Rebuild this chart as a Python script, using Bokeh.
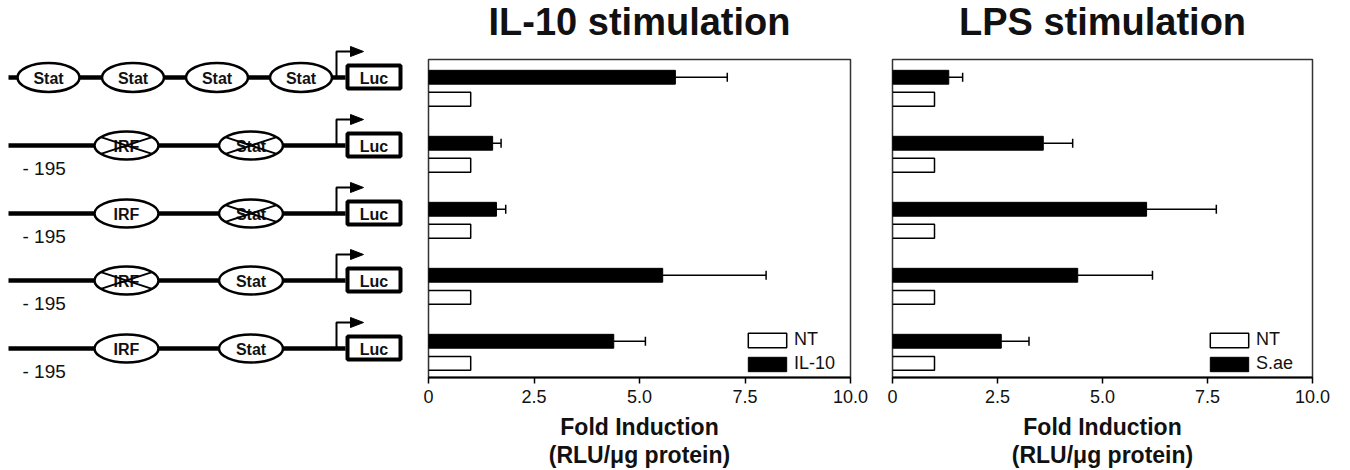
from bokeh.plotting import figure
from bokeh.models import (Range1d, ColumnDataSource, Whisker, TeeHead, Legend,
                          LegendItem, FixedTicker, Title)
from bokeh.layouts import row, column
from bokeh.embed import file_html
from bokeh.resources import INLINE
from bokeh.core.properties import value

FONT = "Liberation Sans"
H = 468
FRAME_TOP, FRAME_BOTTOM = 59, 377

# ---------------- data ----------------
constructs = ["4xStat", "IRF*-Stat*", "IRF-Stat*", "IRF*-Stat", "IRF-Stat"]
group_pos = [5, 4, 3, 2, 1]
nt_fold = [1.0, 1.0, 1.0, 1.0, 1.0]
il10_fold = [5.85, 1.52, 1.61, 5.55, 4.39]
il10_err = [1.23, 0.20, 0.22, 2.45, 0.75]
sae_fold = [1.34, 3.59, 6.05, 4.41, 2.59]
sae_err = [0.33, 0.70, 1.66, 1.78, 0.66]
x_ticks = [0, 2.5, 5, 7.5, 10]
x_tick_labels = ["0", "2.5", "5.0", "7.5", "10.0"]

# promoter schematic: (site label, mutated?) per construct
sites = [
    [("Stat", False), ("Stat", False), ("Stat", False), ("Stat", False)],
    [("IRF", True), ("Stat", True)],
    [("IRF", False), ("Stat", True)],
    [("IRF", True), ("Stat", False)],
    [("IRF", False), ("Stat", False)],
]
start_labels = ["", "- 195", "- 195", "- 195", "- 195"]

# ---------------- schematic figure (pixel-like coordinates) ----------------
ROW_Y = [77, 145, 213, 280, 348]
d = figure(width=418, height=H, x_range=Range1d(0, 418), y_range=Range1d(H, 0),
           output_backend="svg", toolbar_location=None, min_border=0,
           x_axis_location=None, y_axis_location=None, outline_line_color=None)
d.xgrid.visible = False
d.ygrid.visible = False

# promoter lines
d.segment(x0=[8] * 5, x1=[345] * 5, y0=ROW_Y, y1=ROW_Y, line_width=4.5, line_color="black")

ex, ey, ew, eh, etxt, mut_cx, mut_cy, mut_a, mut_b = [], [], [], [], [], [], [], [], []
for i, s in enumerate(sites):
    if len(s) == 4:
        cxs = [48, 132.5, 216.5, 300.5]
        w, h = 62, 29
    else:
        cxs = [126, 250.5]
        w, h = 64, 28
    for (lab, m), cx in zip(s, cxs):
        ex.append(cx); ey.append(ROW_Y[i]); ew.append(w); eh.append(h); etxt.append(lab)
        if m:
            mut_cx.append(cx); mut_cy.append(ROW_Y[i]); mut_a.append(w / 2); mut_b.append(h / 2)

d.ellipse(x=ex, y=ey, width=ew, height=eh, fill_color="white", line_color="black", line_width=2.5)
d.text(x=ex, y=[v + 1 for v in ey], text=etxt, text_align="center", text_baseline="middle",
       text_font=value(FONT), text_font_style="bold", text_font_size="16px", text_color="#111")
# crosses over mutated sites
x0s, y0s, x1s, y1s = [], [], [], []
for cx, cy, a, b in zip(mut_cx, mut_cy, mut_a, mut_b):
    x0s += [cx - 0.8 * a, cx - 0.8 * a]
    x1s += [cx + 0.8 * a, cx + 0.8 * a]
    y0s += [cy - 0.6 * b, cy + 0.6 * b]
    y1s += [cy + 0.6 * b, cy - 0.6 * b]
d.segment(x0=x0s, y0=y0s, x1=x1s, y1=y1s, line_color="black", line_width=2)

# Luc reporter boxes
d.quad(left=[347] * 5, right=[400] * 5, top=[y - 12 for y in ROW_Y], bottom=[y + 11 for y in ROW_Y],
       fill_color="white", line_color="black", line_width=4)
d.text(x=[373.5] * 5, y=[y + 0.5 for y in ROW_Y], text=["Luc"] * 5, text_align="center",
       text_baseline="middle", text_font=value(FONT), text_font_style="bold",
       text_font_size="16px", text_color="#111")
# transcription start arrows
d.multi_line(xs=[[336, 336, 351] for _ in ROW_Y], ys=[[y, y - 26, y - 26] for y in ROW_Y],
             line_color="black", line_width=2)
d.patches(xs=[[350, 363, 350] for _ in ROW_Y], ys=[[y - 31, y - 26, y - 21] for y in ROW_Y],
          fill_color="black", line_color="black", line_width=1)
# start position labels
d.text(x=[22] * 5, y=[y + 23 for y in ROW_Y], text=start_labels, text_align="left",
       text_baseline="alphabetic", text_font=value(FONT), text_font_size="19px", text_color="#111")


# ---------------- bar panels ----------------
def panel(title, stim, err, stim_label, min_left, min_right, width):
    p = figure(width=width, height=H, x_range=Range1d(0, 10), y_range=Range1d(0.618, 5.436),
               output_backend="svg", toolbar_location=None, y_axis_location=None,
               min_border_left=min_left, min_border_right=min_right,
               min_border_top=FRAME_TOP, min_border_bottom=H - FRAME_BOTTOM)
    # spacer between frame and heading, then the heading itself
    p.add_layout(Title(text=" ", text_font_size="1px", standoff=16), "above")
    p.add_layout(Title(text=title, align="center", standoff=-4, text_font=FONT,
                       text_font_size="38px", text_font_style="bold", text_color="#111"), "above")
    p.xgrid.visible = False
    p.ygrid.visible = False
    p.outline_line_color = "#333"
    p.outline_line_width = 1.5

    src = ColumnDataSource(dict(
        yb=[g + 0.167 for g in group_pos], yw=[g - 0.167 for g in group_pos],
        stim=stim, nt=nt_fold, hi=[s + e for s, e in zip(stim, err)]))
    rw = p.hbar(y="yw", left=0, right="nt", height=0.21, source=src,
                fill_color="white", line_color="black", line_width=1.5)
    rb = p.hbar(y="yb", left=0, right="stim", height=0.21, source=src,
                fill_color="black", line_color="black", line_width=1)
    wk = Whisker(base="yb", lower="stim", upper="hi", dimension="width", source=src,
                 line_color="black", line_width=1.5, lower_head=None,
                 upper_head=TeeHead(size=9, line_color="black", line_width=1.5))
    p.add_layout(wk)

    ax = p.xaxis[0]
    ax.ticker = FixedTicker(ticks=x_ticks)
    ax.major_label_overrides = {t: l for t, l in zip(x_ticks, x_tick_labels)}
    ax.minor_tick_line_color = None
    ax.major_tick_in = 0
    ax.major_tick_out = 6
    ax.major_tick_line_width = 1.5
    ax.axis_line_width = 2
    ax.major_label_standoff = 6
    ax.major_label_text_font = FONT
    ax.major_label_text_font_size = "18px"
    ax.major_label_text_color = "#111"
    ax.axis_label = "Fold Induction"
    ax.axis_label_text_font = FONT
    ax.axis_label_text_font_size = "23px"
    ax.axis_label_text_font_style = "bold"
    ax.axis_label_text_color = "#111"
    ax.axis_label_standoff = 8

    p.add_layout(Title(text="(RLU/\u03bcg protein)", align="center", standoff=-6,
                       text_font=FONT, text_font_size="23px", text_font_style="bold",
                       text_color="#111"), "below")

    leg = Legend(items=[LegendItem(label="NT", renderers=[rw]),
                        LegendItem(label=stim_label, renderers=[rb])],
                 location="bottom_right", margin=3, padding=0, spacing=3,
                 glyph_width=48, glyph_height=18, label_height=18, label_width=53,
                 label_standoff=3, border_line_color=None, background_fill_alpha=0,
                 label_text_font=FONT, label_text_font_size="18px", label_text_color="#111")
    p.add_layout(leg)
    return p


p1 = panel("IL-10 stimulation", il10_fold, il10_err, "IL-10", 10, 28, 460)
p2 = panel("LPS stimulation", sae_fold, sae_err, "S.ae", 14, 30, 464)

layout = row(column(d), p1, p2)
open("out.html", "w").write(file_html(layout, INLINE))
